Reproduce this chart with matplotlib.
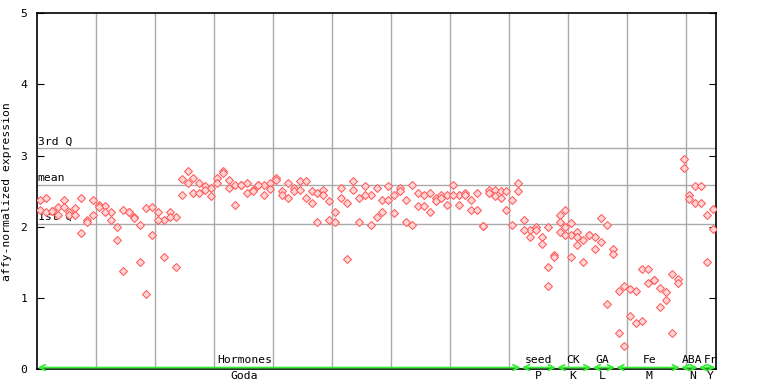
#!/usr/bin/env python
"""
Expression profile chart: affy-normalized expression per sample (two replicates),
grouped by experiment series, with quartile / mean reference lines.
"""
import matplotlib

matplotlib.use("Agg")
import matplotlib.pyplot as plt
import numpy as np

# replicate values per sample (sample index = position in list)
rep1 = [
    2.38, 2.41, 2.22, 2.27, 2.38, 2.21, 2.26, 2.41, 2.10, 2.38,
    2.30, 2.29, 2.20, 1.99, 2.23, 2.21, 2.14, 2.02, 2.26, 2.27,
    2.20, 2.10, 2.20, 2.14, 2.67, 2.79, 2.68, 2.62, 2.57, 2.55,
    2.68, 2.79, 2.65, 2.58, 2.58, 2.61, 2.52, 2.59, 2.59, 2.61,
    2.68, 2.50, 2.62, 2.54, 2.64, 2.64, 2.50, 2.47, 2.51, 2.36,
    2.21, 2.55, 2.34, 2.64, 2.41, 2.57, 2.45, 2.54, 2.38, 2.57,
    2.45, 2.55, 2.38, 2.59, 2.48, 2.45, 2.48, 2.40, 2.44, 2.45,
    2.58, 2.45, 2.47, 2.37, 2.48, 2.01, 2.52, 2.51, 2.50, 2.50,
    2.37, 2.61, 2.09, 1.96, 1.99, 1.86, 1.99, 1.60, 2.17, 2.23,
    2.05, 1.92, 1.82, 1.89, 1.86, 2.12, 2.03, 1.69, 1.09, 1.16,
    1.12, 1.09, 1.40, 1.40, 1.25, 1.14, 1.08, 1.33, 1.26, 2.95,
    2.44, 2.57, 2.57, 2.17, 2.25,
]
rep2 = [
    2.24, 2.20, 2.22, 2.16, 2.27, 2.16, 2.16, 1.91, 2.07, 2.16,
    2.27, 2.21, 2.09, 1.81, 1.38, 2.21, 2.12, 1.51, 1.05, 1.89,
    2.10, 1.58, 2.14, 1.44, 2.44, 2.62, 2.47, 2.48, 2.52, 2.43,
    2.61, 2.76, 2.55, 2.30, 2.58, 2.47, 2.50, 2.59, 2.45, 2.53,
    2.65, 2.44, 2.41, 2.50, 2.51, 2.40, 2.34, 2.07, 2.45, 2.09,
    2.07, 2.40, 1.54, 2.52, 2.07, 2.45, 2.03, 2.13, 2.21, 2.38,
    2.19, 2.50, 2.06, 2.03, 2.29, 2.29, 2.21, 2.36, 2.41, 2.31,
    2.45, 2.31, 2.44, 2.24, 2.24, 2.01, 2.47, 2.43, 2.40, 2.24,
    2.03, 2.50, 1.96, 1.85, 1.96, 1.75, 1.43, 1.57, 2.07, 2.00,
    1.89, 1.86, 1.51, 1.89, 1.68, 1.79, 0.91, 1.62, 0.50, 0.32,
    0.74, 0.64, 0.67, 1.21, 1.25, 0.87, 0.97, 0.50, 1.21, 2.82,
    2.39, 2.33, 2.34, 1.51, 1.97,
]
# a few samples with a third replicate
extra_idx = [86, 88, 89, 90, 91]
extra_val = [1.16, 1.93, 1.88, 1.58, 1.74]

# reference lines
q1_val = 2.04
mean_val = 2.58
q3_val = 3.10

# sample groups: (first index, last index)
group_spans = [(0, 81), (82, 87), (88, 93), (94, 97), (98, 108), (109, 111), (112, 114)]
group_top = ["Hormones", "seed", "CK", "GA", "Fe", "ABA", "Fr"]
group_bottom = ["Goda", "P", "K", "L", "M", "N", "Y"]
label_pos = [34.6, 84.4, 90.3, 95.2, 103.2, 110.5, 113.6]

FONT = "DejaVu Sans Mono"
FS = 8.2


def plot_profile():
    n = len(rep1)
    idx = np.arange(n)

    fig = plt.figure(figsize=(7.68, 3.84), dpi=100)
    ax = fig.add_axes([0.0482, 0.0391, 0.8841, 0.9263])
    ax.set_xlim(-0.5, n - 0.5)
    ax.set_ylim(0, 5)

    # vertical grid every 10 samples
    for gx in np.arange(9.5, n - 1, 10):
        ax.axvline(gx, color="#aaaaaa", lw=1, zorder=1)

    # quartile / mean lines with labels
    for val, txt in [(q3_val, "3rd Q"), (mean_val, "mean"), (q1_val, "1st Q")]:
        ax.axhline(val, color="#aaaaaa", lw=1, zorder=1)
        ax.text(-0.4, val + 0.03, txt, fontsize=FS, family=FONT, va="bottom", ha="left", zorder=2)

    mk = dict(ls="none", marker="D", ms=4.0, mfc="#ffd6d6", mec="#ff5a5a", mew=0.75, zorder=3)
    ax.plot(idx, rep1, **mk)
    ax.plot(idx, rep2, **mk)
    ax.plot(extra_idx, extra_val, **mk)

    # group arrows + labels along the bottom
    for (a, b), top, bot, lx in zip(group_spans, group_top, group_bottom, label_pos):
        ax.annotate(
            "",
            xy=(b + 0.4, 0.02),
            xytext=(a - 0.4, 0.02),
            arrowprops=dict(arrowstyle="<->", color="#33ee33", lw=1.3, mutation_scale=10,
                            shrinkA=0, shrinkB=0),
            annotation_clip=False,
            zorder=4,
        )
        ax.text(lx, 0.05, top, fontsize=FS, family=FONT, ha="center", va="bottom", zorder=5)
        ax.text(lx, -0.03, bot, fontsize=FS, family=FONT, ha="center", va="top", clip_on=False)

    ax.set_xticks([])
    ax.set_yticks(range(6))
    ax.tick_params(axis="y", direction="in", length=5, left=True, right=True, labelsize=FS, pad=7)
    for lbl in ax.get_yticklabels():
        lbl.set_family(FONT)
    ax.set_ylabel("affy-normalized expression", fontsize=FS, family=FONT, labelpad=6)
    for sp in ax.spines.values():
        sp.set_linewidth(1.2)

    fig.savefig("out.png", dpi=100)


if __name__ == "__main__":
    plot_profile()
